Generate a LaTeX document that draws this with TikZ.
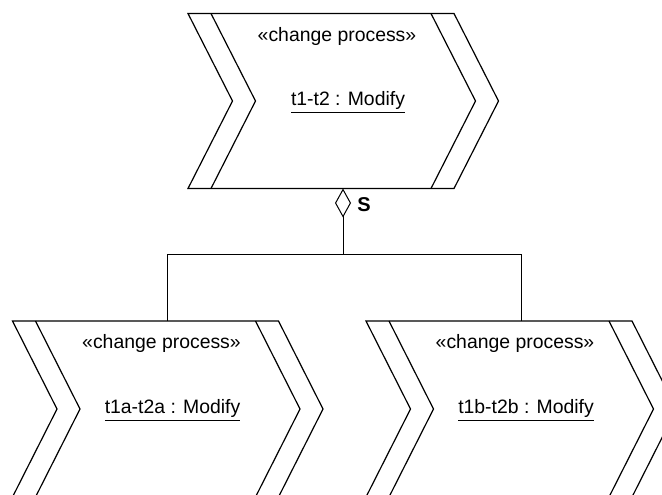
\documentclass[tikz,border=0pt]{standalone}
\usepackage{fontspec}
\setmainfont{Liberation Sans}
\usetikzlibrary{arrows.meta}

% A change process drawn as a double-edged chevron.
% #1 name, #2 top-left corner, #3 height, #4 instance label
\newcommand\procshape[4]{%
  \begin{scope}[shift={#2}]
    \pgfmathsetmacro\hh{#3/2}
    \draw[shapeline] (0,0) -- (266,0) -- (310.5,\hh) -- (266,#3) -- (0,#3) -- (44.5,\hh) -- cycle;
    \draw[shapeline] (23,0) -- (67.5,\hh) -- (23,#3);
    \draw[shapeline] (243,0) -- (287.5,\hh) -- (243,#3);
    \node[stereo] (#1-st) at (149,22.5) {«change process»};
    \node[instname] (#1-name) at (160,\hh+1.5) {\underline{#4}};
    \coordinate (#1-top) at (155,0);
    \coordinate (#1-bot) at (155,#3);
  \end{scope}}

\begin{document}
\begin{tikzpicture}[x=0.5pt,y=-0.5pt,
    shapeline/.style={line width=0.6pt,line join=miter},
    conn/.style={line width=0.5pt},
    stereo/.style={font=\fontsize{9.7pt}{11pt}\selectfont,inner sep=0pt},
    instname/.style={font=\fontsize{9.7pt}{11pt}\selectfont,inner sep=0pt},
    aggr/.style={{Diamond[open,length=14.5pt,width=8pt,line width=0.5pt]}-}]
  \clip (0,0) rectangle (662,494);
  \fill[white] (0,0) rectangle (662,494);

  \procshape{p0}{(188,13.5)}{175}{t1-t2 : Modify}
  \procshape{p1}{(12.5,321)}{176}{t1a-t2a : Modify}
  \procshape{p2}{(366,321)}{176}{t1b-t2b : Modify}

  \coordinate (fork) at (343,254);
  \draw[conn,aggr] (p0-bot) -- (fork);
  \draw[conn] (p1-top) |- (fork) -| (p2-top);
  \node[font=\bfseries\fontsize{10pt}{12pt}\selectfont,inner sep=0pt] (slabel) at (364,205) {S};
\end{tikzpicture}
\end{document}
